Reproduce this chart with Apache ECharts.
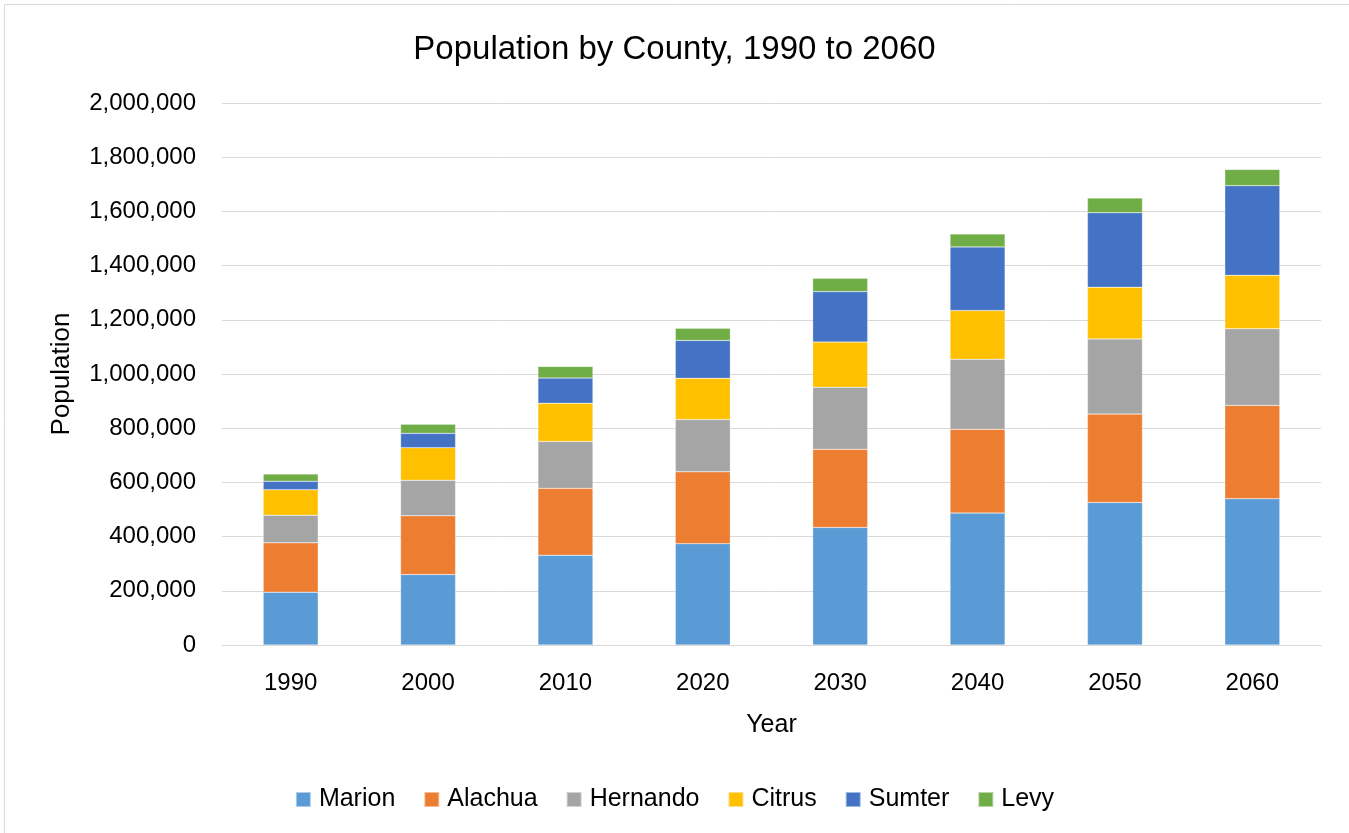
<!DOCTYPE html>
<html>
<head>
<meta charset="utf-8">
<script src="https://cdn.jsdelivr.net/npm/echarts@6/dist/echarts.min.js"></script>
<style>
html,body{margin:0;padding:0;background:#fff;}
#c{width:1349px;height:833px;}
</style>
</head>
<body>
<div id="c"></div>
<script>
const years = ['1990','2000','2010','2020','2030','2040','2050','2060'];
const marion   = [195000, 260000, 331000, 374000, 434000, 487000, 526000, 540000];
const alachua  = [182000, 217000, 247000, 265000, 288000, 309000, 326000, 344000];
const hernando = [102000, 131000, 173000, 193000, 229000, 258000, 277000, 283000];
const citrus   = [ 94000, 120000, 141000, 152000, 167000, 180000, 191000, 197000];
const sumter   = [ 31000,  53000,  93000, 140000, 186000, 235000, 275000, 331000];
const levy     = [ 27000,  34000,  43000,  45000,  49000,  48000,  54000,  60000];
const yTicks = [0, 200000, 400000, 600000, 800000, 1000000, 1200000, 1400000, 1600000, 1800000, 2000000];

const seriesDefs = [
  ['Marion', marion, '#5B9BD5'],
  ['Alachua', alachua, '#ED7D31'],
  ['Hernando', hernando, '#A5A5A5'],
  ['Citrus', citrus, '#FFC000'],
  ['Sumter', sumter, '#4472C4'],
  ['Levy', levy, '#70AD47']
];

const font = 'Liberation Sans, Arial, sans-serif';
const chart = echarts.init(document.getElementById('c'));
chart.setOption({
  animation: false,
  backgroundColor: '#fff',
  graphic: [{
    type: 'rect', left: 2, top: 2,
    shape: {width: 1352, height: 840},
    style: {fill: 'none', stroke: '#d9d9d9', lineWidth: 1}
  }],
  title: {
    text: 'Population by County, 1990 to 2060',
    left: 'center', top: 28,
    textStyle: {fontFamily: font, fontSize: 33, fontWeight: 'normal', color: '#000'}
  },
  legend: {
    bottom: 16, left: 'center',
    itemWidth: 15, itemHeight: 15, itemGap: 28,
    icon: 'rect',
    textStyle: {fontFamily: font, fontSize: 25, color: '#000', padding: [0, 0, 0, 3]},
    data: seriesDefs.map(s => s[0])
  },
  grid: {left: 222, right: 28, top: 103, bottom: 188, containLabel: false},
  xAxis: {
    type: 'category', data: years,
    name: 'Year', nameLocation: 'middle', nameGap: 68,
    nameTextStyle: {fontFamily: font, fontSize: 25, color: '#000'},
    axisTick: {show: false},
    axisLine: {lineStyle: {color: '#d9d9d9', width: 1}},
    axisLabel: {fontFamily: font, fontSize: 24, color: '#000', margin: 26}
  },
  yAxis: {
    type: 'value', min: yTicks[0], max: yTicks[yTicks.length-1], interval: yTicks[1]-yTicks[0],
    name: 'Population', nameLocation: 'middle', nameGap: 147, nameRotate: 90,
    nameTextStyle: {fontFamily: font, fontSize: 26, color: '#000'},
    axisLine: {show: false}, axisTick: {show: false},
    splitLine: {lineStyle: {color: '#d9d9d9', width: 1}},
    axisLabel: {fontFamily: font, fontSize: 24, color: '#000', margin: 26,
      formatter: v => v.toLocaleString('en-US')}
  },
  series: seriesDefs.map(s => ({
    name: s[0], type: 'bar', stack: 'total', data: s[1],
    barWidth: 55,
    itemStyle: {color: s[2], borderColor: 'rgba(255,255,255,0.5)', borderWidth: 0.5}
  }))
});
</script>
</body>
</html>
